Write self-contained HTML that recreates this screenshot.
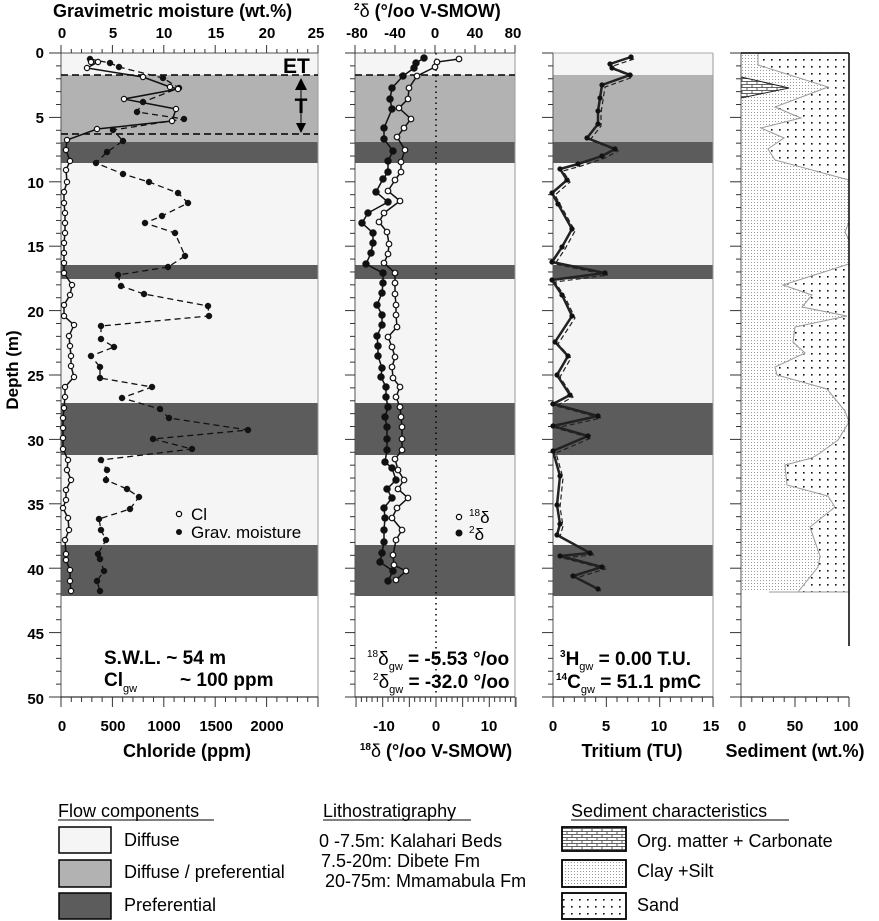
<!DOCTYPE html>
<html><head><meta charset="utf-8">
<style>
html,body{margin:0;padding:0;background:#fff;}
svg{display:block;font-family:"Liberation Sans",sans-serif;}
.b{font-weight:bold;}
</style></head><body>
<svg id="s" width="879" height="921" viewBox="0 0 879 921" xmlns="http://www.w3.org/2000/svg">
<defs>
<pattern id="clay" width="3" height="3" patternUnits="userSpaceOnUse"><rect width="3" height="3" fill="#fff"/><rect x="1" y="1" width="1" height="1" fill="#9a9a9a"/></pattern>
<pattern id="sand" width="8" height="7" patternUnits="userSpaceOnUse"><rect width="8" height="7" fill="#fff"/><rect x="3" y="3" width="1.6" height="1.6" fill="#111"/></pattern>
<pattern id="brick" width="10" height="6" patternUnits="userSpaceOnUse"><rect width="10" height="6" fill="#fff"/><path d="M0 0.5H10M0 3.5H10M2 0.5V3.5M7 3.5V6" stroke="#333" stroke-width="0.8" fill="none"/></pattern>
</defs>
<g id="bands"></g>
<g id="axes" stroke="#000" fill="none"></g>
<g id="data"></g>

<text class="b" x="53" y="17" font-size="18">Gravimetric moisture (wt.%)</text>
<text class="b" x="354" y="17" font-size="18"><tspan font-size="10" dy="-7">2</tspan><tspan dy="7" font-weight="normal">δ</tspan> (°/oo V-SMOW)</text>
<g class="b" font-size="15" text-anchor="middle">
<text x="62" y="38">0</text><text x="113" y="38">5</text><text x="164" y="38">10</text><text x="216" y="38">15</text><text x="267" y="38">20</text><text x="316" y="38">25</text>
<text x="357" y="38">-80</text><text x="395" y="38">-40</text><text x="435" y="38">0</text><text x="475" y="38">40</text><text x="513" y="38">80</text>
<text x="62" y="731">0</text><text x="113" y="731">500</text><text x="164" y="731">1000</text><text x="216" y="731">1500</text><text x="267" y="731">2000</text>
<text x="384" y="731">-10</text><text x="436" y="731">0</text><text x="489" y="731">10</text>
<text x="553" y="731">0</text><text x="606" y="731">5</text><text x="659" y="731">10</text><text x="711" y="731">15</text>
<text x="742" y="731">0</text><text x="795" y="731">50</text><text x="846" y="731">100</text>
</g>
<g class="b" font-size="15" text-anchor="end">
<text x="44" y="58">0</text><text x="44" y="123">5</text><text x="44" y="188">10</text><text x="44" y="252">15</text><text x="44" y="317">20</text><text x="44" y="381">25</text><text x="44" y="446">30</text><text x="44" y="510">35</text><text x="44" y="575">40</text><text x="44" y="639">45</text><text x="44" y="704">50</text>
</g>
<text class="b" font-size="17" transform="translate(18,370) rotate(-90)" text-anchor="middle">Depth (m)</text>
<g class="b" font-size="18" text-anchor="middle">
<text x="187" y="757">Chloride (ppm)</text>
<text x="436" y="757"><tspan font-size="10" dy="-7">18</tspan><tspan dy="7" font-weight="normal">δ</tspan> (°/oo V-SMOW)</text>
<text x="632" y="757">Tritium (TU)</text>
<text x="795" y="757">Sediment (wt.%)</text>
</g>
<text class="b" x="283" y="73" font-size="21">ET</text>
<text class="b" x="301" y="113" font-size="21" text-anchor="middle">T</text>
<line x1="301" y1="86" x2="301" y2="124" stroke="#000" stroke-width="1"/>
<path d="M295 90 L301 78 L307 90Z M296 123 L306 123 L301 133Z" fill="#000"/>
<g class="b" font-size="19">
<text x="104" y="664">S.W.L. ~ 54 m</text>
<text x="104" y="686">Cl<tspan font-size="11" font-weight="normal" dy="6">gw</tspan></text>
<text x="180" y="686">~ 100 ppm</text>
<text x="367" y="665"><tspan font-size="10" font-weight="normal" dy="-8">18</tspan><tspan font-weight="normal" dy="8">δ</tspan><tspan font-size="11" font-weight="normal" dy="5">gw</tspan><tspan dy="-5"> = -5.53 °/oo</tspan></text>
<text x="373" y="688"><tspan font-size="10" font-weight="normal" dy="-8">2</tspan><tspan font-weight="normal" dy="8">δ</tspan><tspan font-size="11" font-weight="normal" dy="5">gw</tspan><tspan dy="-5"> = -32.0 °/oo</tspan></text>
<text x="560" y="665"><tspan font-size="10" dy="-8">3</tspan><tspan dy="8">H</tspan><tspan font-size="11" font-weight="normal" dy="5">gw</tspan><tspan dy="-5"> = 0.00 T.U.</tspan></text>
<text x="556" y="688"><tspan font-size="10" dy="-8">14</tspan><tspan dy="8">C</tspan><tspan font-size="11" font-weight="normal" dy="5">gw</tspan><tspan dy="-5"> = 51.1 pmC</tspan></text>
</g>
<circle cx="179" cy="514" r="2.6" fill="#fff" stroke="#000" stroke-width="1.2"/>
<text x="191" y="520" font-size="17">Cl</text>
<circle cx="179" cy="532" r="3" fill="#111"/>
<text x="191" y="538" font-size="17">Grav. moisture</text>
<circle cx="459" cy="517" r="2.6" fill="#fff" stroke="#000" stroke-width="1.2"/>
<text x="469" y="523" font-size="17"><tspan font-size="10" dy="-7">18</tspan><tspan dy="7">δ</tspan></text>
<circle cx="459" cy="533" r="3.5" fill="#111"/>
<text x="469" y="540" font-size="17"><tspan font-size="10" dy="-7">2</tspan><tspan dy="7">δ</tspan></text>

<g font-size="18">
<text x="58" y="817">Flow components</text><line x1="58" y1="820" x2="214" y2="820" stroke="#000"/>
<rect x="59" y="827" width="52" height="26" fill="#f5f5f5" stroke="#000" stroke-width="1.5"/>
<rect x="59" y="860" width="52" height="27" fill="#b2b2b2" stroke="#000" stroke-width="1.5"/>
<rect x="59" y="893" width="52" height="26" fill="#5c5c5c" stroke="#000" stroke-width="1.5"/>
<text x="124" y="846">Diffuse</text>
<text x="124" y="878">Diffuse / preferential</text>
<text x="124" y="911">Preferential</text>
<text x="323" y="817">Lithostratigraphy</text><line x1="323" y1="820" x2="471" y2="820" stroke="#000"/>
<text x="319" y="847">0  -7.5m: Kalahari Beds</text>
<text x="321" y="867">7.5-20m: Dibete Fm</text>
<text x="325" y="887">20-75m: Mmamabula Fm</text>
<text x="571" y="817">Sediment characteristics</text><line x1="571" y1="820" x2="789" y2="820" stroke="#000"/>
<rect x="562" y="827" width="64" height="24" fill="url(#brick)" stroke="#000" stroke-width="1.8"/>
<rect x="562" y="860" width="64" height="27" fill="url(#clay)" stroke="#000" stroke-width="1.8"/>
<rect x="562" y="893" width="64" height="26" fill="url(#sand)" stroke="#000" stroke-width="1.8"/>
<text x="637" y="847">Org. matter + Carbonate</text>
<text x="637" y="877">Clay +Silt</text>
<text x="637" y="911">Sand</text>
</g>
</svg>
<script>
var NS="http://www.w3.org/2000/svg";
function el(p,t,a){var e=document.createElementNS(NS,t);for(var k in a)e.setAttribute(k,a[k]);document.getElementById(p).appendChild(e);return e;}
var panels=[[61,318],[355,515],[553,713]];
var bands=[[53,75,"#f5f5f5"],[75,142,"#b2b2b2"],[142,163,"#5c5c5c"],[163,265,"#f5f5f5"],[265,279,"#5c5c5c"],[279,403,"#f5f5f5"],[403,455,"#5c5c5c"],[455,545,"#f5f5f5"],[545,596,"#5c5c5c"]];
panels.forEach(function(p){bands.forEach(function(b){el("bands","rect",{x:p[0],y:b[0],width:p[1]-p[0],height:b[1]-b[0],fill:b[2]});});});
var L=[[758,53],[758,65],[828,87],[775,107],[801,118],[761,128],[784,138],[768,149],[775,160],[849,180],[849,222],[845,232],[849,240],[849,264],[783,285],[812,295],[802,307],[847,316],[795,327],[793,342],[805,353],[775,367],[777,375],[827,389],[845,411],[849,422],[838,440],[820,453],[812,458],[785,465],[787,485],[828,496],[835,507],[810,527],[820,556],[818,567],[798,592]];
function pts(a){return a.map(function(p){return p.join(",");}).join(" ");}
el("bands","polygon",{points:pts([[741,53]].concat(L).concat([[741,592]])),fill:"url(#clay)"});
el("bands","polygon",{points:pts(L.concat([[849,592],[849,53]])),fill:"url(#sand)"});
el("bands","polyline",{points:pts(L),fill:"none",stroke:"#999","stroke-width":1});
el("bands","polygon",{points:"741,77 789,88 741,98",fill:"url(#brick)",stroke:"#222","stroke-width":1});
el("bands","line",{x1:769,y1:592,x2:849,y2:592,stroke:"#999"});
function ln(x1,y1,x2,y2,c,w){return el("axes","line",{x1:x1,y1:y1,x2:x2,y2:y2,stroke:c||"#000","stroke-width":w||1});}
[[61,49],[355,345],[553,542],[741,730]].forEach(function(a){
 ln(a[0],53,a[0],697,"#555");
 for(var d=0;d<=50;d++){var y=53+d*12.88;var maj=d%5==0;ln(maj?a[1]:a[0]-5,y,a[0],y,"#333");}
});
ln(318,53,318,707,"#999");ln(515,53,515,707,"#999");ln(713,53,713,707,"#999");ln(849,53,849,646,"#000",1.5);
ln(61,53,318,53,"#555");ln(355,53,515,53,"#555");ln(553,53,713,53,"#aaa");ln(741,53,849,53,"#000",1.5);
for(var i=0;i<=25;i++){var x=61+i*10.28;ln(x,53,x,i%5==0?45:49,"#333");}
for(var i=0;i<=16;i++){var x=355+i*10;ln(x,53,x,i%4==0?45:49,"#333");}
ln(61,697,318,697);ln(355,697,515,697);ln(553,697,713,697);ln(741,697,849,697);
for(var i=0;i<=25;i++){var x=61+i*10.28;ln(x,697,x,i%5==0?707:702,"#333");}
for(var i=-15;i<=15;i++){var x=436+i*5.33;ln(x,697,x,i%5==0?707:702,"#333");}
for(var i=0;i<=15;i++){var x=553+i*10.67;ln(x,697,x,i%5==0?707:702,"#333");}
for(var i=0;i<=10;i++){var x=741+i*10.8;ln(x,697,x,i%5==0?707:702,"#333");}
ln(61,75,318,75,"#000",1.5).setAttribute("stroke-dasharray","7,4");
ln(61,134,318,134,"#000",1.5).setAttribute("stroke-dasharray","7,4");
ln(355,75,515,75,"#000",1.5).setAttribute("stroke-dasharray","7,4");
ln(436,53,436,697,"#000",1.5).setAttribute("stroke-dasharray","1.5,4");
var CL=[[91,62],[98,62],[87,68],[143,77],[170,87],[178,89],[124,99],[176,109],[172,121],[97,129],[67,140],[66,150],[70,161],[66,170],[67,182],[64,192],[64,203],[65,213],[65,223],[65,233],[64,243],[64,253],[64,263],[64,273],[72,285],[70,295],[64,305],[64,316],[74,325],[69,336],[70,346],[71,356],[71,366],[74,377],[65,387],[65,397],[64,408],[63,418],[63,428],[63,438],[63,449],[68,460],[67,470],[71,480],[66,490],[66,500],[63,508],[68,518],[69,530],[65,540],[66,554],[66,560],[70,570],[70,581],[71,591]];
var GR=[[90,59],[110,63],[119,67],[163,78],[179,88],[143,102],[137,112],[184,119],[113,130],[123,141],[107,152],[96,163],[123,174],[149,182],[178,193],[188,203],[162,216],[145,223],[175,233],[185,256],[168,267],[118,275],[121,286],[144,294],[208,306],[209,316],[101,326],[101,339],[114,347],[91,356],[100,367],[100,378],[152,387],[122,398],[160,409],[169,418],[248,430],[153,439],[192,449],[101,460],[107,470],[106,480],[127,489],[139,497],[130,509],[99,519],[101,530],[106,540],[98,554],[100,559],[104,571],[97,581],[100,591]];
var H2=[[424,58],[416,63],[414,68],[403,76],[392,88],[390,99],[392,109],[384,128],[384,139],[393,151],[388,161],[388,172],[383,179],[376,192],[388,202],[368,213],[362,223],[373,233],[373,243],[371,253],[366,264],[383,273],[383,283],[382,293],[377,305],[382,315],[382,325],[377,336],[378,346],[378,356],[382,368],[381,377],[386,387],[386,397],[388,407],[385,417],[387,427],[387,439],[387,450],[385,462],[392,468],[396,480],[387,489],[392,498],[384,508],[385,518],[384,530],[384,542],[382,553],[380,562],[393,571],[388,581]];
var O18=[[459,59],[437,62],[435,67],[417,76],[409,88],[408,99],[399,108],[411,119],[404,128],[397,137],[405,150],[401,162],[401,172],[395,180],[388,191],[400,201],[384,213],[379,222],[387,232],[389,244],[388,254],[384,263],[395,273],[395,283],[395,294],[396,305],[396,315],[397,327],[388,337],[392,347],[395,357],[392,367],[393,378],[400,387],[396,397],[400,407],[401,417],[402,427],[402,439],[402,450],[395,459],[398,470],[404,480],[398,489],[408,498],[397,508],[392,518],[402,530],[396,540],[393,555],[394,565],[406,571],[396,580]];
var TR=[[631,57],[610,64],[612,68],[630,75],[602,85],[600,98],[598,111],[598,124],[587,138],[615,149],[602,156],[578,164],[560,169],[567,180],[552,193],[558,204],[572,229],[562,247],[552,262],[605,273],[552,280],[562,295],[572,316],[555,342],[568,356],[557,375],[570,395],[553,404],[598,416],[553,426],[588,436],[553,451],[560,476],[557,505],[560,524],[557,535],[590,553],[560,556],[602,567],[573,576],[598,589]];
function line(a,attrs){attrs.points=pts(a);attrs.fill="none";return el("data","polyline",attrs);}
function dots(a,r,open){a.forEach(function(p){el("data","circle",{cx:p[0],cy:p[1],r:r,fill:open?"#fff":"#111",stroke:"#111","stroke-width":open?1.2:0.5});});}
line(GR,{stroke:"#111","stroke-width":1.3,"stroke-dasharray":"6,4"});
line(CL,{stroke:"#111","stroke-width":1.5});
dots(GR,3,false);dots(CL,2.6,true);
line(H2,{stroke:"#111","stroke-width":1.5});line(O18,{stroke:"#111","stroke-width":1.5});
dots(H2,3.5,false);dots(O18,2.8,true);
var TR2=TR.map(function(p){return [p[0]+3,p[1]+2];});
line(TR2,{stroke:"#222","stroke-width":1.2,"stroke-dasharray":"5,3"});
line(TR,{stroke:"#222","stroke-width":2.5});
dots(TR,2.4,false);
</script>
</body></html>
